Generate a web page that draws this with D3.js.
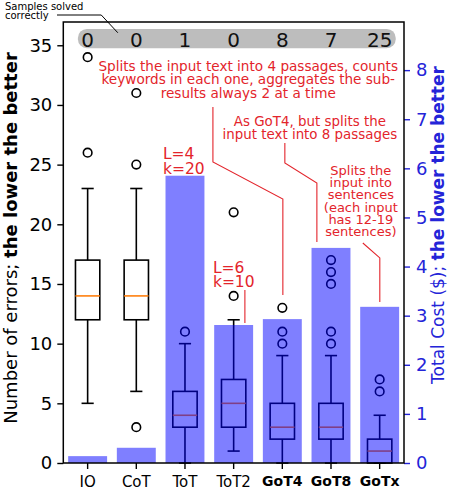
<!DOCTYPE html>
<html><head><meta charset="utf-8">
<script src="https://cdn.jsdelivr.net/npm/d3@7"></script>
<style>body{margin:0;background:#fff}svg{display:block}</style>
</head><body><div id="chart"></div>
<script>
// ---- data ----
const categories = ["IO","CoT","ToT","ToT2","GoT4","GoT8","GoTx"];
const boldCategories = ["GoT4","GoT8","GoTx"];
const solvedCounts = [0,0,1,0,8,7,25];
const totalCost = [0.14,0.31,5.85,2.81,2.93,4.38,3.18];
const q1 = [12,12,3,3,2,2,0];
const medians = [14,14,4,5,3,3,1];
const q3 = [17,17,6,7,5,5,2];
const whiskerLow = [5,6,0,1,0,0,0];
const whiskerHigh = [23,23,10,12,9,9,4];
const outliers = [[26,34],[3,25,31],[11],[14,21],[10,11,13],[10,11,15,16,17],[6,7]];
const errorTicks = [0,5,10,15,20,25,30,35];
const costTicks = [0,1,2,3,4,5,6,7,8];

const W=449,H=494, L=63.3, R=404, T=22, B=463;
const FONT="DejaVu Sans";
const RED="#e3242b", BLUE="#2424d8";

const svg=d3.select("#chart").append("svg").attr("width",W).attr("height",H)
  .style("font-family",FONT);

const x=d3.scaleBand().domain(categories).range([L,R]).padding(0);
const xLin=d3.scaleLinear().domain([-0.5,6.5]).range([L,R]);
const yL=d3.scaleLinear().domain([0,36.95]).range([B,T]);
const yR=d3.scaleLinear().domain([0,8.98]).range([B,T]);
const bw=x.bandwidth();
const cx=c=>x(c)+bw/2;

// ---- boxplots ----
const gBox=svg.append("g");
categories.forEach((c,i)=>{
  const g=gBox.append("g").attr("fill","none").attr("stroke","#000").attr("stroke-width",1.6);
  const bx=cx(c), hw=bw*0.25, cw=bw*0.125;
  g.append("line").attr("x1",bx).attr("x2",bx).attr("y1",yL(q3[i])).attr("y2",yL(whiskerHigh[i]));
  g.append("line").attr("x1",bx).attr("x2",bx).attr("y1",yL(q1[i])).attr("y2",yL(whiskerLow[i]));
  g.append("line").attr("x1",bx-cw).attr("x2",bx+cw).attr("y1",yL(whiskerHigh[i])).attr("y2",yL(whiskerHigh[i]));
  g.append("line").attr("x1",bx-cw).attr("x2",bx+cw).attr("y1",yL(whiskerLow[i])).attr("y2",yL(whiskerLow[i]));
  g.append("rect").attr("x",bx-hw).attr("width",2*hw).attr("y",yL(q3[i])).attr("height",yL(q1[i])-yL(q3[i]));
  g.append("line").attr("x1",bx-hw).attr("x2",bx+hw).attr("y1",yL(medians[i])).attr("y2",yL(medians[i]))
    .attr("stroke","#ff7f0e");
  outliers[i].forEach(v=>{
    g.append("circle").attr("cx",bx).attr("cy",yL(v)).attr("r",4.3);
  });
});

// ---- cost bars (semi-transparent, on top) ----
svg.append("g").selectAll("rect").data(categories).join("rect")
  .attr("x",c=>cx(c)-bw*0.4).attr("width",bw*0.8)
  .attr("y",(c,i)=>yR(totalCost[i])).attr("height",(c,i)=>B-yR(totalCost[i]))
  .attr("fill","#0000ff").attr("fill-opacity",0.5);

// ---- axes ----
const axL=svg.append("g").attr("transform",`translate(${L},0)`)
  .call(d3.axisLeft(yL).tickValues(errorTicks).tickSize(6).tickSizeOuter(0).tickPadding(5));
axL.select(".domain").remove();
axL.selectAll("text").attr("font-size",18).attr("font-family",FONT).attr("fill","#000");
axL.selectAll("line").attr("stroke","#000").attr("stroke-width",1.4);

const axR=svg.append("g").attr("transform",`translate(${R},0)`)
  .call(d3.axisRight(yR).tickValues(costTicks).tickSize(6).tickSizeOuter(0).tickPadding(6));
axR.select(".domain").remove();
axR.selectAll("text").attr("font-size",18).attr("font-family",FONT).attr("fill",BLUE);
axR.selectAll("line").attr("stroke",BLUE).attr("stroke-width",1.4);

const axB=svg.append("g").attr("transform",`translate(0,${B})`)
  .call(d3.axisBottom(x).tickSize(6).tickSizeOuter(0).tickPadding(7));
axB.select(".domain").remove();
axB.selectAll("line").attr("stroke","#000").attr("stroke-width",1.4);
axB.selectAll("text").attr("font-family",FONT).attr("fill","#000")
  .attr("font-size",c=>boldCategories.includes(c)?14:15)
  .attr("font-weight",c=>boldCategories.includes(c)?"bold":"normal");

// frame
svg.append("rect").attr("x",L).attr("y",T).attr("width",R-L).attr("height",B-T)
  .attr("fill","none").attr("stroke","#000").attr("stroke-width",1.5);

// axis labels
const yl=svg.append("text").attr("transform",`translate(17,238) rotate(-90)`)
  .attr("text-anchor","middle").attr("font-size",18).attr("fill","#000");
yl.append("tspan").text("Number of errors; ");
yl.append("tspan").attr("font-weight","bold").text("the lower the better");
const yr=svg.append("text").attr("transform",`translate(443.5,225) rotate(-90)`)
  .attr("text-anchor","middle").attr("font-size",17).attr("fill",BLUE);
yr.append("tspan").text("Total Cost ($); ");
yr.append("tspan").attr("font-weight","bold").text("the lower the better");

// ---- solved-count band ----
svg.append("rect").attr("x",xLin(-0.2)).attr("width",xLin(6.33)-xLin(-0.2))
  .attr("y",yL(36.37)).attr("height",yL(34.75)-yL(36.37)).attr("rx",9)
  .attr("fill","#bdbdbd");
svg.append("g").selectAll("text").data(categories).join("text")
  .attr("x",c=>cx(c)).attr("y",yL(34.85)).attr("text-anchor","middle")
  .attr("font-size",20).attr("fill","#111").text((c,i)=>solvedCounts[i]);

svg.append("text").attr("x",5).attr("y",9.5).attr("font-size",10).attr("fill","#000").text("Samples solved");
svg.append("text").attr("x",5).attr("y",18.5).attr("font-size",10).attr("fill","#000").text("correctly");
svg.append("path").attr("d",`M57,15 L${xLin(0.28)},15 L${xLin(0.62)},${yL(36.05)}`)
  .attr("fill","none").attr("stroke","#000").attr("stroke-width",1);

// ---- annotations (data coordinates) ----
const line=d3.line().x(d=>xLin(d[0])).y(d=>yL(d[1]));
function multiText(lines, xv, yv, stepPx, size, anchor){
  const t=svg.append("text").attr("font-size",size).attr("fill",RED).attr("text-anchor",anchor);
  lines.forEach((s,k)=>t.append("tspan").attr("x",xLin(xv)).attr("y",yL(yv)+k*stepPx).text(s));
}
multiText(["Splits the input text into 4 passages, counts","keywords in each one, aggregates the sub-","results always 2 at a time"],3.3,32.87,13.8,13.6,"middle");
multiText(["As GoT4, but splits the","input text into 8 passages"],4.566,28.24,12.9,13.4,"middle");
multiText(["Splits the","input into","sentences","(each input","has 12-19","sentences)"],5.613,24.13,12.2,13.0,"middle");
multiText(["L=4","k=20"],1.547,25.47,14.5,15.5,"start");
multiText(["L=6","k=10"],2.574,15.92,14,15.5,"start");

const paths=[
  [[2.574,29.83],[2.574,25.22],[4.011,22.12],[4.011,14.08]],
  [[4.052,26.81],[4.052,25.14],[4.71,23.46],[4.71,18.52]],
  [[5.654,18.43],[6.003,17.18],[6.003,13.49]],
  [[3.231,14.5],[3.231,11.73]]
];
paths.forEach(p=>svg.append("path").attr("d",line(p)).attr("fill","none")
  .attr("stroke",RED).attr("stroke-width",1.1));
</script></body></html>
